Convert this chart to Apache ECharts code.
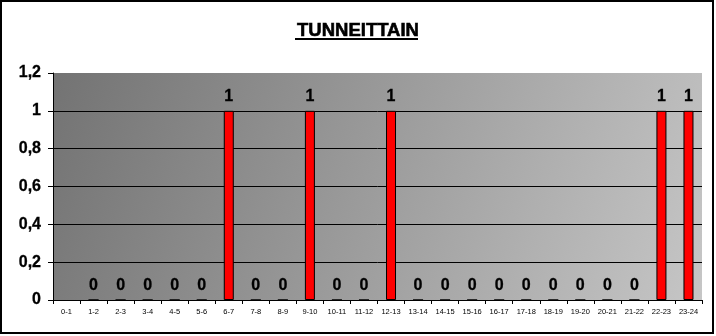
<!DOCTYPE html>
<html><head><meta charset="utf-8">
<script src="https://cdn.jsdelivr.net/npm/echarts@6/dist/echarts.min.js"></script>
<style>html,body{margin:0;padding:0;background:#fff}#c{width:716px;height:336px}</style>
</head><body><div id="c"></div>
<script>
const titleText = 'TUNNEITTAIN';
const categories = ['0-1','1-2','2-3','3-4','4-5','5-6','6-7','7-8','8-9','9-10','10-11','11-12','12-13','13-14','14-15','15-16','16-17','17-18','18-19','19-20','20-21','21-22','22-23','23-24'];
const values = [null,0,0,0,0,0,1,0,0,1,0,0,1,0,0,0,0,0,0,0,0,0,1,1];
const yTicks = [0,0.2,0.4,0.6,0.8,1,1.2];

const chart = echarts.init(document.getElementById('c'), null, {renderer:'canvas'});
const font = 'Liberation Sans, Arial, sans-serif';
chart.setOption({
  animation:false,
  textStyle:{fontFamily:font},
  title:{text:titleText,left:'center',top:16,itemGap:0,
    textStyle:{fontFamily:font,fontSize:18.5,fontWeight:'bold',color:'#000',textBorderColor:'#000',textBorderWidth:0.6}},
  graphic:[
    {type:'rect',shape:{x:1,y:1,width:712,height:332},style:{fill:'none',stroke:'#000',lineWidth:2},z:100},
    {type:'line',shape:{x1:295,y1:39,x2:418,y2:39},style:{stroke:'#000',lineWidth:2},z:100}
  ],
  grid:{left:53,right:14,top:73,bottom:36,show:true,borderWidth:0,
    backgroundColor:{type:'linear',x:0,y:0,x2:1,y2:1,colorStops:[{offset:0,color:'#737373'},{offset:1,color:'#c6c6c6'}]}},
  xAxis:{type:'category',data:categories,
    axisLine:{lineStyle:{color:'#000',width:1}},
    axisTick:{show:true,length:4,lineStyle:{color:'#000'},alignWithLabel:false,interval:0},
    axisLabel:{interval:0,fontSize:7.5,color:'#000',margin:8,fontFamily:font}},
  yAxis:{type:'value',min:0,max:1.2,interval:0.2,
    axisLine:{show:true,lineStyle:{color:'#000',width:1}},
    axisTick:{show:true,length:5,lineStyle:{color:'#000'}},
    axisLabel:{fontSize:16,fontWeight:'bold',color:'#000',margin:12,fontFamily:font,textBorderColor:'#000',textBorderWidth:0.3,
      formatter:v=>{const t=yTicks.find(x=>Math.abs(x-v)<1e-9);return String(t).replace('.',',');}},
    splitLine:{show:true,lineStyle:{color:['#000','#000','#000','#000','#000','#000','rgba(0,0,0,0)'],width:1}}},
  series:[{type:'bar',data:values,barWidth:'37%',
    itemStyle:{color:'#ff0000',borderColor:'#000',borderWidth:1},
    label:{show:true,position:'top',distance:6,fontSize:16,fontWeight:'bold',color:'#000',fontFamily:font,textBorderColor:'#000',textBorderWidth:0.3}}]
});
</script></body></html>
